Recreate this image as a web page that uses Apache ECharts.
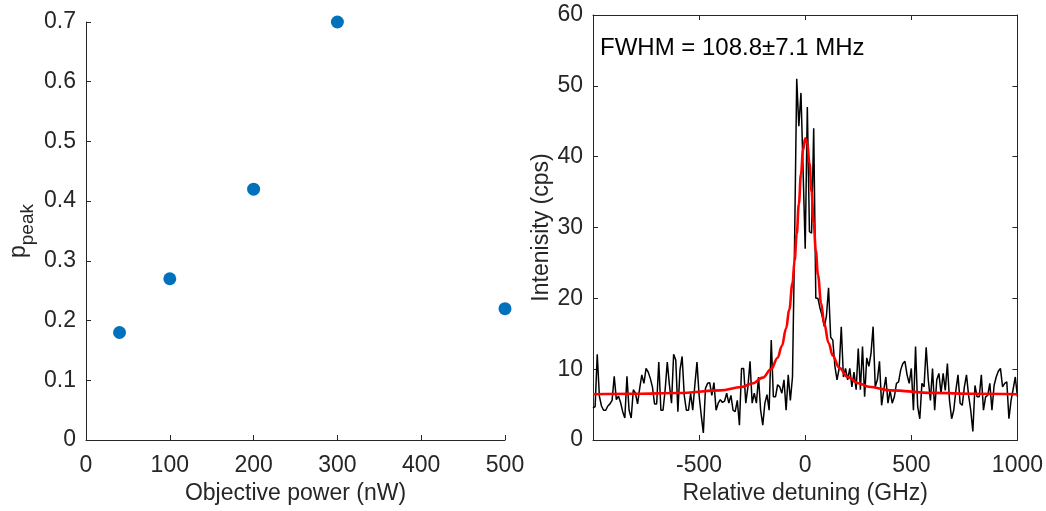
<!DOCTYPE html>
<html><head><meta charset="utf-8">
<script src="https://cdn.jsdelivr.net/npm/echarts@6/dist/echarts.min.js"></script>
<style>html,body{margin:0;padding:0;background:#fff}#c{width:1046px;height:511px}</style>
</head><body><div id="c"></div>
<script>
// Left panel
const powerNW = [40, 100, 200, 300, 500];
const pPeak = [0.18, 0.27, 0.42, 0.70, 0.22];

// Right panel: measured spectrum on a uniform detuning grid
const detuningStartGHz = -1000;
const detuningStepGHz = 10;
const intensityCps = [
  4.5, 4.7, 12.1, 6.2, 4.8, 4.2, 4.2, 4.8, 5.1, 5.6,
  9.0, 5.7, 6.2, 5.3, 4.0, 3.1, 9.0, 4.2, 3.1, 7.1,
  6.6, 5.1, 7.3, 9.2, 8.0, 10.1, 9.6, 8.7, 7.5, 5.1,
  5.1, 11.0, 4.2, 4.2, 7.1, 11.0, 7.8, 5.2, 12.1, 11.3,
  4.0, 9.9, 11.8, 6.3, 4.2, 4.2, 6.6, 4.2, 7.8, 11.0,
  6.3, 3.5, 1.0, 7.3, 8.0, 8.1, 6.3, 8.1, 4.2, 5.2,
  5.7, 5.3, 5.5, 6.6, 5.2, 6.3, 4.2,
  4.0, 5.6, 2.1, 10.1, 10.1, 5.2, 7.5, 11.1, 5.2, 6.6,
  5.2, 8.9, 4.2, 2.1, 5.2, 6.4, 4.2, 14.1, 6.1, 6.1,
  7.8, 7.5, 6.6, 8.5, 4.2, 9.2, 5.6, 8.9,
  28, 51, 44.3, 49, 38, 27, 47, 29.4, 29.2, 44, 20,
  20.0, 18.6, 17.5, 16.0, 17.5, 21.5, 14.5, 14.1, 10.4, 8.5,
  10.1, 16.0, 8.9, 10.1, 8.5, 10.1, 7.5, 9.6, 7.1, 12.9,
  7.1, 13.2, 6.1, 11.6, 10.4, 12.2, 16.0, 7.5, 8.5,
  11.1, 4.9, 7.0, 8.9, 5.2, 7.0, 5.2, 6.1, 8.0, 8.2,
  9.9, 10.8, 11.1, 9.2, 8.0, 10.1, 4.2, 13.2, 4.7, 3.0,
  8.0, 7.5, 13.1, 8.5, 5.6, 10.1, 4.2, 8.5, 9.4, 6.6,
  9.4, 7.0, 10.8, 5.6, 3.0, 4.2, 7.0, 9.2, 5.2, 4.9,
  7.5, 9.2, 6.3, 4.2, 1.2, 7.7, 6.1, 6.1, 9.2, 4.2,
  6.1, 6.3, 8.0, 4.2, 7.7, 8.9, 9.7, 10.1, 7.5, 8.0,
  8.2, 3.0, 5.6, 7.2, 8.9, 6.1
];

// Lorentzian fit curve
const fitDetuningGHz = [-1000, -800, -600, -400, -300, -250, -200, -160, -130, -110, -90, -75, -60, -50, -40, -30, -20, -10, 0, 10, 20, 30, 40, 50, 60, 75, 90, 110, 130, 160, 200, 250, 300, 400, 600, 800, 1000];
const fitIntensityCps = [6.46, 6.52, 6.64, 7.00, 7.49, 7.97, 8.80, 10.03, 11.62, 13.28, 15.75, 18.44, 22.14, 25.32, 29.09, 33.32, 37.55, 40.97, 42.60, 41.88, 39.07, 35.05, 30.75, 26.76, 23.34, 19.31, 16.39, 13.70, 11.90, 10.20, 8.90, 8.02, 7.52, 7.01, 6.65, 6.52, 6.46];

const annotation = 'FWHM = 108.8\u00b17.1 MHz';

const FONT = "'Liberation Sans', Arial, Helvetica, sans-serif";
const AX = '#262626';

const scatterData = powerNW.map((x, i) => [x, pPeak[i]]);
const spectrumData = intensityCps.map((y, i) => [detuningStartGHz + i * detuningStepGHz, y]);
const fitData = fitDetuningGHz.map((x, i) => [x, fitIntensityCps[i]]);

const plain = v => String(v);

function axisBase(extra) {
  return Object.assign({
    type: 'value',
    axisLine: { show: true, onZero: false, lineStyle: { color: AX, width: 1 } },
    axisTick: { show: true, inside: true, length: 5, lineStyle: { color: AX, width: 1 } },
    axisLabel: { color: AX, fontSize: 23, fontFamily: FONT, margin: 10, formatter: plain },
    splitLine: { show: false },
    nameTextStyle: { color: AX, fontSize: 23, fontFamily: FONT },
    nameLocation: 'middle'
  }, extra);
}

const chart = echarts.init(document.getElementById('c'), null, { renderer: 'canvas' });
chart.setOption({
  animation: false,
  backgroundColor: '#fff',
  grid: [
    { left: 86, right: 541, top: 22, bottom: 71 },
    { left: 593, right: 28, top: 15, bottom: 71 }
  ],
  xAxis: [
    axisBase({ gridIndex: 0, min: 0, max: 500, interval: 100, name: 'Objective power (nW)', nameGap: 42,
      axisLabel: { color: AX, fontSize: 23, fontFamily: FONT, margin: 14, formatter: plain } }),
    axisBase({ gridIndex: 1, min: -1000, max: 1000, interval: 500, name: 'Relative detuning (GHz)', nameGap: 42,
      axisLabel: { color: AX, fontSize: 23, fontFamily: FONT, margin: 14, showMinLabel: false, formatter: plain } }),
    axisBase({ gridIndex: 1, min: -1000, max: 1000, interval: 500, position: 'top',
      axisLabel: { show: false } })
  ],
  yAxis: [
    axisBase({ gridIndex: 0, min: 0, max: 0.7, interval: 0.1, name: '{p|p}{s|peak}', nameGap: 56,
      nameTextStyle: { color: AX, fontFamily: FONT, rich: {
        p: { fontSize: 23, lineHeight: 23, fontFamily: FONT, color: AX, verticalAlign: 'top' },
        s: { fontSize: 19, lineHeight: 19, fontFamily: FONT, color: AX, verticalAlign: 'top', padding: [11, 0, 0, 0] }
      } } }),
    axisBase({ gridIndex: 1, min: 0, max: 60, interval: 10, name: 'Intenisity (cps)', nameGap: 40 }),
    axisBase({ gridIndex: 1, min: 0, max: 60, interval: 10, position: 'right', axisLabel: { show: false } })
  ],
  series: [
    { type: 'scatter', xAxisIndex: 0, yAxisIndex: 0, data: scatterData, symbolSize: 13,
      itemStyle: { color: '#0072BD', opacity: 1 } },
    { type: 'line', xAxisIndex: 1, yAxisIndex: 1, data: spectrumData, showSymbol: false,
      lineStyle: { color: '#000', width: 1.5 }, z: 2 },
    { type: 'line', xAxisIndex: 1, yAxisIndex: 1, data: fitData, showSymbol: false, smooth: 0.4, smoothMonotone: 'x',
      lineStyle: { color: '#ff0000', width: 2.6 }, z: 3 }
  ],
  graphic: [
    { type: 'text', left: 600, top: 36, style: { text: annotation, fontSize: 24, fontFamily: FONT, fill: '#000' } }
  ]
});
</script>
</body></html>
